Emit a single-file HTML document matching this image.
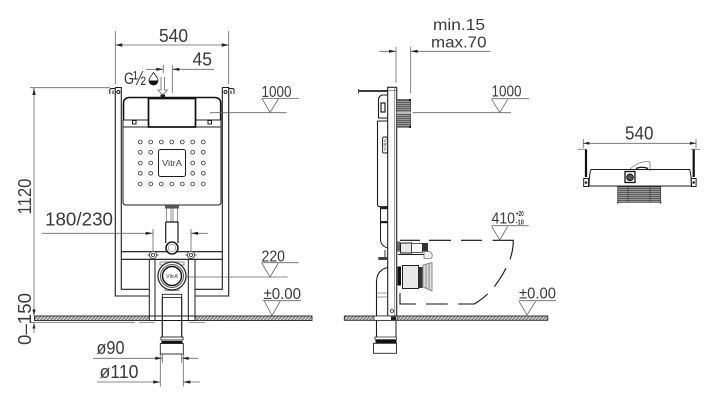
<!DOCTYPE html>
<html>
<head>
<meta charset="utf-8">
<style>
html,body{margin:0;padding:0;background:#fff;width:720px;height:405px;overflow:hidden}
svg{display:block;stroke-width:1}
text{font-family:"Liberation Sans",sans-serif;fill:#3a3a3a}
.d{stroke:#666;fill:none}
.k{stroke:#1c1c1c;fill:none}
.b{stroke:#111;fill:none}
.g{stroke:#777;fill:none}
</style>
</head>
<body>
<svg width="720" height="405" viewBox="0 0 720 405" xmlns="http://www.w3.org/2000/svg">
<defs>
<pattern id="h" width="2.4" height="2.4" patternUnits="userSpaceOnUse" patternTransform="rotate(-45)">
<rect width="2.4" height="2.4" fill="#ddd"/><rect width="2.4" height="1" fill="#666"/>
</pattern>
<pattern id="gr" width="2" height="2" patternUnits="userSpaceOnUse">
<rect width="2" height="2" fill="#999"/><rect width="2" height=".9" fill="#555"/>
</pattern>
</defs>

<!-- ===== FRONT VIEW ===== -->
<path class="d" stroke-width=".8" d="M115.300 31V84M228.700 31V84M115.300 45H228.700"/>
<path d="M115.300 45l7-1.800v3.600zM228.700 45l-7-1.800v3.600z" fill="#222"/>
<text x="159" y="42" font-size="18" textLength="29" lengthAdjust="spacingAndGlyphs">540</text>
<path class="d" stroke-width=".8" d="M163.300 65V73M172.300 65V93M146 69.300H163.300M172.300 69.300H214"/>
<path d="M163.300 69.300l-7-1.600v3.200zM172.300 69.300l7-1.600v3.200z" fill="#222"/>
<text x="192.500" y="65.500" font-size="18" textLength="19.500" lengthAdjust="spacingAndGlyphs">45</text>
<text x="124" y="84" font-size="17" textLength="10" lengthAdjust="spacingAndGlyphs">G</text>
<text x="133" y="85" font-size="20" textLength="13" lengthAdjust="spacingAndGlyphs">½</text>
<path d="M153.500 72.500c-2 3-4.500 5.500-4.500 8a4.500 4.500 0 0 0 9 0c0-2.500-2.500-5-4.500-8z" fill="#fff" stroke="#222" stroke-width=".8"/>
<path d="M149 80.500a4.500 4.500 0 0 0 9 0z" fill="#111"/>
<path class="d" stroke-width=".8" d="M161 77V90H158L162.700 95L167.400 90H164.500V77"/>
<path class="d" stroke-width=".8" d="M30 87.700H110M34 88V316"/>
<path d="M34 88l-1.600 7h3.200z" fill="#222"/>
<text transform="translate(31 214.500) rotate(-90)" font-size="18" textLength="36" lengthAdjust="spacingAndGlyphs">1120</text>
<path d="M34 315.500l-1.600-6h3.200zM34 322.500l-1.600 6h3.200z" fill="#222"/>
<path class="d" stroke-width=".8" d="M30 322.500H135M34 322.500V333"/>
<text transform="translate(31 345) rotate(-90)" font-size="18" textLength="52" lengthAdjust="spacingAndGlyphs">0–150</text>

<!-- posts and frame -->
<path class="k" stroke-width="1.100" d="M115.300 87.500H121.300V289.300H149.300M115.300 87.500V296H149.300M222.300 87.500H228.700V296H195M222.300 87.500V289.300H195"/>
<path class="b" stroke-width="1.100" d="M121.300 251.700H222.300M121.300 259.300H222.300"/>
<path class="k" d="M149.300 259V319M155 259V319M188.300 259V319M195 259V319"/>
<path class="k" d="M115 88.500H111.300Q109.800 88.500 109.800 90.300V94M113 94V90.500"/>
<circle cx="118.300" cy="92" r="1.500" class="k"/>
<path class="k" d="M229 88.500H232.500Q234 88.500 234 90.300V94M231 94V90.500"/>
<circle cx="225.500" cy="92" r="1.500" class="k"/>
<!-- tank -->
<path class="b" stroke-width="1.600" d="M123.500 120V103Q123.500 98 129 97.500H215Q220.700 98 220.700 103V120"/>
<path class="k" d="M123 120H221M123 127H221M123 127V202Q123 205 126 205H218Q221 205 221 202V127M123 120V127M221 120V127"/>
<rect x="148.500" y="98.500" width="47" height="28.500" fill="#fff" stroke="#111" stroke-width="1.700"/>
<rect x="132.500" y="120.500" width="3.500" height="3.500" class="k"/>
<rect x="208" y="120.500" width="3.500" height="3.500" class="k"/>
<rect x="160.500" y="94.500" width="4.500" height="3" fill="#222"/>
<g fill="none" stroke="#333" stroke-width=".8">
<circle cx="140.300" cy="142" r="1.900"/><circle cx="150.700" cy="142" r="1.900"/><circle cx="161.300" cy="142" r="1.900"/><circle cx="171.700" cy="142" r="1.900"/><circle cx="182.300" cy="142" r="1.900"/><circle cx="192.700" cy="142" r="1.900"/><circle cx="203.300" cy="142" r="1.900"/>
<circle cx="140.300" cy="152.300" r="1.900"/><circle cx="150.700" cy="152.300" r="1.900"/><circle cx="192.700" cy="152.300" r="1.900"/><circle cx="203.300" cy="152.300" r="1.900"/>
<circle cx="140.300" cy="163" r="1.900"/><circle cx="150.700" cy="163" r="1.900"/><circle cx="192.700" cy="163" r="1.900"/><circle cx="203.300" cy="163" r="1.900"/>
<circle cx="140.300" cy="173.300" r="1.900"/><circle cx="150.700" cy="173.300" r="1.900"/><circle cx="192.700" cy="173.300" r="1.900"/><circle cx="203.300" cy="173.300" r="1.900"/>
<circle cx="140.300" cy="184" r="1.900"/><circle cx="150.700" cy="184" r="1.900"/><circle cx="161.300" cy="184" r="1.900"/><circle cx="171.700" cy="184" r="1.900"/><circle cx="182.300" cy="184" r="1.900"/><circle cx="192.700" cy="184" r="1.900"/><circle cx="203.300" cy="184" r="1.900"/>
</g>
<rect x="158.500" y="149.500" width="27" height="27" rx="2" class="k"/>
<text x="162" y="166" font-size="8" textLength="20" lengthAdjust="spacingAndGlyphs">VitrA</text>
<rect x="165" y="205" width="14" height="3.500" fill="#555"/>
<path class="g" stroke-width=".8" d="M166.500 208.500V222M177.500 208.500V222M171 208.500V222M173 208.500V222"/>
<path class="k" stroke-width="1.200" d="M165.700 222H178V243M165.700 222V243"/>
<circle cx="172" cy="248" r="6" fill="#fff" stroke="#222" stroke-width="1.600"/>
<circle cx="172" cy="248" r="3.800" fill="none" stroke="#888" stroke-width=".7"/>
<text x="45" y="225.500" font-size="18" textLength="68" lengthAdjust="spacingAndGlyphs">180/230</text>
<path class="d" stroke-width=".8" d="M41.700 233.300H152.700M191 233.300H207.700M153 229V252M191 229V252"/>
<path d="M152.700 233.300l-7-1.600v3.200zM191 233.300l7-1.600v3.200z" fill="#222"/>
<g fill="#fff" stroke="#444" stroke-width=".9">
<path d="M147.500 255H158.500M185.500 255H196.500"/>
<circle cx="153" cy="255" r="3.600"/><circle cx="153" cy="255" r="1.600"/>
<circle cx="191" cy="255" r="3.600"/><circle cx="191" cy="255" r="1.600"/>
</g>
<rect x="160" y="262" width="24" height="3" fill="none" stroke="#666" stroke-width=".7"/>
<rect x="165" y="288" width="14" height="2.500" fill="none" stroke="#666" stroke-width=".7"/>
<circle cx="172" cy="276" r="14" fill="#fff" stroke="#222" stroke-width="1.200"/>
<circle cx="172" cy="276" r="11.500" fill="none" stroke="#555" stroke-width="1"/>
<circle cx="172" cy="276" r="9.500" fill="#fff" stroke="#111" stroke-width="1.400"/>
<text x="166" y="278" font-size="5" textLength="12" lengthAdjust="spacingAndGlyphs">VitrA</text>
<rect x="34.500" y="316" width="277.500" height="4.500" fill="url(#h)" stroke="#222" stroke-width=".9"/>
<rect x="149.500" y="316" width="45" height="4.500" fill="#fff"/>
<path class="k" d="M149.300 316H195M149.300 320.500H195M149.300 316V320.500M155 316V320.500M188.300 316V320.500M195 316V320.500"/>
<path class="g" stroke-width=".8" d="M139 322.500H155M188.500 322.500H205"/>
<rect x="162.300" y="294.300" width="19.400" height="3.300" fill="#fff" stroke="#222" stroke-width=".9"/>
<path class="k" stroke-width="1.200" d="M162.300 297.500V337M181.700 297.500V337"/>
<rect x="161" y="337" width="22" height="3" fill="#fff" stroke="#222" stroke-width=".9"/>
<rect x="161.500" y="341" width="21" height="2.500" fill="#111"/>
<rect x="160.300" y="343.500" width="23" height="10.500" fill="#fff" stroke="#222" stroke-width=".9"/>
<text x="96.500" y="354" font-size="18" textLength="28" lengthAdjust="spacingAndGlyphs">ø90</text>
<path class="d" stroke-width=".8" d="M93 358.300H162.300M181.700 358.300H198M162.300 354V363M181.700 354V363"/>
<path d="M162.300 358.300l-7-1.600v3.200zM181.700 358.300l7-1.600v3.200z" fill="#222"/>
<text x="99.500" y="378" font-size="18" textLength="39" lengthAdjust="spacingAndGlyphs">ø110</text>
<path class="d" stroke-width=".8" d="M96.700 382H160.300M183.300 382H200M160.300 354V386.500M183.300 354V386.500"/>
<path d="M160.300 382l-7-1.600v3.200zM183.300 382l7-1.600v3.200z" fill="#222"/>
<text x="261.500" y="97" font-size="15.500" textLength="30" lengthAdjust="spacingAndGlyphs">1000</text>
<path class="d" stroke-width=".8" d="M261.700 98.500H299M262.300 99L270 112.500L278.300 99M210 112.700H286.700"/>
<text x="261.500" y="261.300" font-size="15.500" textLength="23.500" lengthAdjust="spacingAndGlyphs">220</text>
<path class="d" stroke-width=".8" d="M261.700 262.700H298.700M261.700 263L270 277L278.300 263M186.700 277H287.700"/>
<text x="263.500" y="299" font-size="16" textLength="37.500" lengthAdjust="spacingAndGlyphs">±0.00</text>
<path class="d" stroke-width=".8" d="M263 300.700H301M264.300 301L272 315.700L280.300 301"/>

<!-- ===== SIDE VIEW ===== -->
<text x="433" y="30" font-size="16" textLength="52" lengthAdjust="spacingAndGlyphs">min.15</text>
<text x="431" y="47.300" font-size="16" textLength="55.500" lengthAdjust="spacingAndGlyphs">max.70</text>
<path class="d" stroke-width=".8" d="M396 47V83M410.700 47V93M379.300 51.300H396M410.700 51.300H490.700"/>
<path d="M396 51.300l-7-1.600v3.200zM410.700 51.300l7-1.600v3.200z" fill="#222"/>
<path d="M358.500 91H387.700" stroke="#222" stroke-width="1.800"/>
<path d="M358.500 89V93.500" stroke="#444" stroke-width="1"/>
<rect x="387.700" y="87.300" width="9" height="229" fill="#fff" stroke="#222" stroke-width="1.100"/>
<path class="g" stroke-width=".8" d="M394.700 88V316M388 90.500H396.500"/>
<path class="k" stroke-width="1.100" d="M387.700 95H382Q379 96 378.500 99V118H387.700M377.500 121H387.700M377.500 121V204Q377.500 206.700 380 206.700H387.700"/>
<path d="M381 103h4v9h-4z" fill="#fff" stroke="#222" stroke-width="1.200"/>
<rect x="382.500" y="137" width="5" height="16" rx="1.500" fill="#fff" stroke="#222" stroke-width=".9"/>
<text transform="translate(383.500 139) rotate(90)" font-size="4.500" textLength="12" lengthAdjust="spacingAndGlyphs">VitrA</text>
<rect x="396.700" y="99.300" width="14" height="28" fill="url(#gr)" stroke="#444" stroke-width=".6"/>
<path d="M396.700 112.800H411" stroke="#eee" stroke-width="1"/>
<path d="M410 99V101M410 126V128" stroke="#111" stroke-width="1.800"/>
<path class="k" d="M380.500 206.700V240Q381 246 387.700 248M387.700 207"/>
<rect x="380" y="206.700" width="7.700" height="2.500" fill="#222"/>
<rect x="380" y="221" width="7.700" height="2.200" fill="#222"/>
<rect x="378.300" y="257" width="9.400" height="3" fill="#444"/>
<path d="M385 250V257" stroke="#333" stroke-width="1"/>
<path class="k" stroke-width="1.100" d="M387.700 267.500Q377 270 376.500 281V337"/>
<path class="g" stroke-width=".8" d="M376.500 293H387.700M376.500 297H387.700"/>
<rect x="375" y="337" width="21.500" height="2.500" fill="#fff" stroke="#333" stroke-width=".8"/>
<rect x="375.500" y="340" width="21" height="3.200" fill="#111"/>
<rect x="373.500" y="343.300" width="23" height="10" fill="#fff" stroke="#222" stroke-width=".9"/>
<path class="k" d="M376.500 321V337M396 321V337"/>
<rect x="397" y="241.500" width="3" height="10" fill="#666"/>
<rect x="400.500" y="243" width="11" height="10" fill="#e6e6e6" stroke="#222" stroke-width="1"/>
<rect x="411.500" y="243.500" width="11" height="9" fill="#fff" stroke="#333" stroke-width=".8"/>
<rect x="422" y="243" width="6" height="8.500" fill="#333"/>
<path class="k" d="M398 254.500H427"/>
<path d="M424 251.500H430Q434 255 431 258.500H424z" fill="#eee" stroke="#777" stroke-width=".8"/>
<rect x="397.500" y="266.500" width="3.500" height="19" fill="#111"/>
<rect x="402.500" y="265.500" width="16" height="23" fill="#e8e8e8" stroke="#222" stroke-width="1"/>
<rect x="418.500" y="267" width="4" height="21" fill="#333"/>
<path d="M423 265L432 262.500V291L423 287z" fill="#ddd" stroke="#777" stroke-width=".8"/>
<path class="g" stroke-width=".8" d="M426 264V289M429 263V290"/>
<path d="M400 240.300H420M429 240.300H451M461 240.300H482M492.700 240.300H513.300Q513.300 250 510 259.300M506 268.300Q501 278 494.300 286.700M487.700 294Q481 300 474.300 304H458.300M447.700 304H426M416 304H400V293.300" fill="none" stroke="#111" stroke-width="1.100"/>
<rect x="344.300" y="316" width="203.500" height="4.300" fill="url(#h)" stroke="#222" stroke-width=".9"/>
<rect x="374" y="316" width="23" height="4.300" fill="#fff" stroke="#222" stroke-width=".7"/>
<rect x="391" y="316.500" width="5" height="3.500" fill="#222"/>
<circle cx="392" cy="311" r="1.500" fill="none" stroke="#222" stroke-width=".8"/>
<text x="491.500" y="96.700" font-size="15.500" textLength="30" lengthAdjust="spacingAndGlyphs">1000</text>
<path class="d" stroke-width=".8" d="M491.700 98.700H529M491.700 99.300L499.700 112.500L507.700 99.300M412.700 112.700H511"/>
<text x="491.500" y="223.300" font-size="15.500" textLength="23.500" lengthAdjust="spacingAndGlyphs">410</text>
<text x="515.800" y="216" font-size="7" font-weight="bold" textLength="8" lengthAdjust="spacingAndGlyphs">+20</text>
<text x="515.800" y="224.500" font-size="7" font-weight="bold" textLength="8" lengthAdjust="spacingAndGlyphs">-10</text>
<path class="d" stroke-width=".8" d="M491.700 225.700H528.700M491.700 226.500L499.700 240L507.700 226.500"/>
<text x="519" y="298.700" font-size="16" textLength="37" lengthAdjust="spacingAndGlyphs">±0.00</text>
<path class="d" stroke-width=".8" d="M519 300.700H556M519 301.300L527 315L535.700 301.300"/>

<!-- ===== TOP VIEW ===== -->
<text x="625" y="139.300" font-size="18" textLength="28.500" lengthAdjust="spacingAndGlyphs">540</text>
<path class="d" stroke-width=".8" d="M583.300 139V148M696 139V148M583.300 143.300H696"/>
<path d="M583.300 143.300l6-1.500v3zM696 143.300l-6-1.500v3z" fill="#222"/>
<path d="M586 149.500V177M693.700 149.500V177" stroke="#111" stroke-width="2.200"/>
<path class="g" stroke-width=".8" d="M578 149.300H587M691 149.300H700"/>
<rect x="583.700" y="178.500" width="4.800" height="8" fill="#fff" stroke="#222" stroke-width="1"/>
<rect x="691.300" y="178.500" width="4.800" height="8" fill="#fff" stroke="#222" stroke-width="1"/>
<circle cx="586" cy="182.500" r="1.300" fill="#222"/>
<circle cx="693.700" cy="182.500" r="1.300" fill="#222"/>
<path class="k" d="M589 186Q589.500 172 591 169.500H689.500Q691 172 691.500 186H589"/>
<path class="g" stroke-width=".8" d="M630 169Q640 160 650 162Q650 164 650 171"/>
<path d="M636 168.500Q642 166 648 168.500" fill="none" stroke="#111" stroke-width="1.300"/>
<rect x="625" y="171.500" width="10" height="11" fill="#fff" stroke="#111" stroke-width="1.300"/>
<circle cx="630" cy="177.300" r="3.300" fill="#555" stroke="#111" stroke-width="1"/>
<rect x="617.700" y="186.700" width="43" height="15.600" fill="url(#gr)" stroke="#333" stroke-width=".7"/>
<path d="M628 186.700V202.300M650 186.700V202.300" stroke="#333" stroke-width=".6"/>
<path d="M617 203H618.500M660 203H661.500" stroke="#333" stroke-width="1"/>
</svg>
</body>
</html>
